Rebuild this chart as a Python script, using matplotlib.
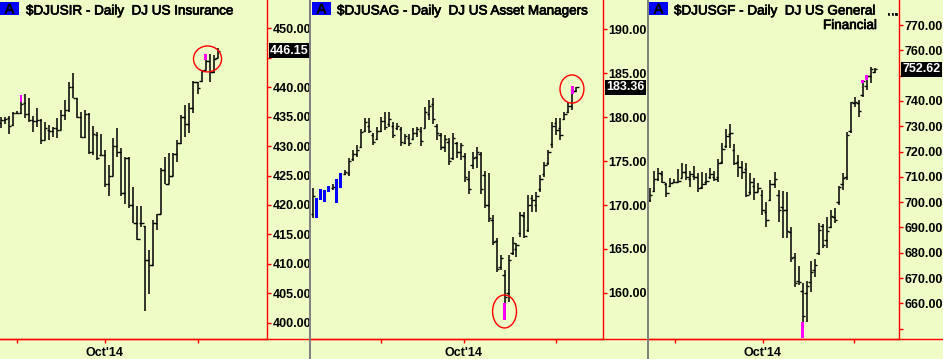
import numpy as np
import matplotlib
matplotlib.use('Agg')
import matplotlib.pyplot as plt
import matplotlib.transforms as mtransforms
import matplotlib.patheffects as pe
from matplotlib.patches import Ellipse, Rectangle
from matplotlib.lines import Line2D

plt.rcParams['font.family'] = ['Liberation Sans', 'DejaVu Sans']

# ---- $DJUSIR  DJ US Insurance ----
p1_open = [434.0, 434.4, 434.7, 433.6, 435.7, 435.7, 437.3, 435.5, 434.4, 434.2,
           434.4, 431.0, 432.7, 432.6, 433.0, 432.8, 435.3, 436.2, 440.0, 438.1,
           435.0, 431.5, 435.5, 429.0, 431.8, 428.5, 428.5, 423.5, 425.0, 430.0,
           429.0, 422.0, 428.0, 420.0, 417.0, 417.0, 416.5, 410.6, 409.8, 417.0,
           418.5, 426.0, 423.6, 425.0, 428.6, 430.6, 435.0, 433.8, 436.4, 440.8,
           441.0, 442.9, 444.5, 442.5, 444.9]
p1_high = [435.0, 435.0, 435.1, 435.8, 435.9, 438.7, 438.8, 438.1, 435.1, 436.4,
           434.6, 434.1, 433.6, 433.2, 434.7, 436.1, 437.8, 440.9, 442.4, 438.1,
           435.8, 436.1, 435.7, 433.4, 432.4, 432.1, 429.3, 426.7, 431.3, 433.0,
           429.6, 428.2, 428.2, 423.1, 419.8, 419.8, 416.5, 412.3, 417.4, 418.5,
           426.2, 428.1, 428.8, 428.8, 431.0, 435.3, 437.0, 437.3, 441.1, 440.9,
           442.9, 445.7, 445.7, 445.5, 446.6]
p1_low = [433.0, 433.8, 432.1, 433.4, 435.4, 435.5, 434.7, 434.1, 432.4, 433.3,
          430.4, 431.0, 431.0, 431.6, 431.3, 432.7, 434.4, 435.8, 438.1, 434.7,
          431.3, 431.3, 428.7, 428.4, 427.6, 428.4, 423.1, 421.6, 425.0, 428.2,
          421.6, 420.2, 419.4, 416.9, 414.0, 416.2, 402.0, 404.9, 409.7, 415.7,
          418.5, 423.5, 423.5, 424.9, 427.3, 430.4, 431.6, 432.3, 435.7, 438.8,
          440.9, 442.9, 440.9, 442.4, 444.9]
p1_close = [434.4, 434.6, 433.4, 435.6, 435.6, 437.1, 435.5, 434.4, 434.2, 434.4,
            431.0, 433.0, 432.6, 433.0, 432.8, 435.3, 436.2, 440.0, 438.2, 435.0,
            431.5, 435.5, 429.0, 432.0, 428.0, 428.5, 423.5, 425.0, 430.0, 429.0,
            422.0, 428.0, 420.0, 417.0, 414.2, 417.0, 410.6, 409.8, 417.0, 418.5,
            426.0, 423.6, 425.0, 428.6, 430.6, 435.0, 433.8, 436.4, 440.8, 439.9,
            442.8, 444.5, 442.5, 444.8, 446.15]
p1_magenta = [(5, 438.7, 437.5), (51, 445.7, 444.6)]
p1_blue = []
p1_circles = [(51.5, 444.8, 7.0, 4.4)]

# ---- $DJUSAG  DJ US Asset Managers ----
p2_open = [169.0, 169.0, 170.8, 171.2, 171.6, 171.9, 170.5, 172.4, 173.5, 173.6,
           175.2, 175.8, 176.6, 178.4, 179.0, 178.0, 177.5, 178.4, 179.5, 179.2,
           179.0, 178.7, 178.6, 177.0, 177.6, 177.5, 178.2, 178.4, 178.8, 180.3,
           181.5, 179.0, 177.9, 176.6, 177.2, 175.3, 177.0, 176.0, 175.6, 173.0,
           174.5, 175.5, 175.8, 173.4, 170.0, 168.3, 165.9, 163.0, 162.0, 160.0,
           164.6, 165.0, 166.8, 168.8, 167.2, 170.8, 170.0, 171.8, 173.5, 174.8,
           176.9, 179.3, 178.8, 179.8, 180.6, 181.2, 183.0]
p2_high = [171.89, 170.76, 171.82, 171.67, 172.16, 172.39, 172.92, 173.67, 173.98, 175.30,
           176.25, 176.82, 178.64, 179.92, 179.85, 178.14, 178.90, 180.04, 180.53, 180.53,
           179.39, 179.28, 178.90, 178.03, 178.03, 178.71, 178.90, 178.90, 181.17, 181.93,
           182.12, 179.17, 178.14, 177.95, 177.58, 178.14, 177.20, 177.01, 175.87, 173.86,
           176.06, 176.63, 176.06, 173.86, 173.60, 168.86, 166.21, 164.32, 162.61, 164.32,
           166.40, 165.64, 169.24, 169.24, 171.14, 171.14, 171.52, 173.41, 174.92, 176.25,
           179.47, 179.85, 179.85, 180.61, 181.74, 183.50, 183.45]
p2_low = [168.48, 168.56, 170.57, 170.38, 171.44, 171.70, 170.27, 171.97, 173.41, 173.33,
          175.00, 175.49, 176.52, 178.33, 178.14, 176.82, 177.39, 178.33, 178.52, 178.90,
          177.65, 178.52, 176.74, 176.89, 176.74, 177.39, 177.77, 176.74, 178.71, 179.66,
          179.17, 177.39, 176.25, 176.06, 174.55, 175.11, 175.38, 175.11, 172.65, 171.21,
          174.09, 174.17, 171.21, 169.70, 168.03, 165.45, 162.42, 162.61, 156.93, 159.02,
          164.32, 164.13, 166.40, 166.21, 166.97, 169.24, 169.24, 171.52, 173.22, 174.55,
          176.44, 177.95, 177.39, 179.66, 180.42, 180.80, 182.80]
p2_close = [171.0, 170.5, 171.5, 170.6, 172.0, 172.0, 172.6, 173.4, 173.8, 175.0,
            175.8, 176.3, 178.3, 179.4, 178.4, 177.2, 178.4, 179.6, 178.9, 179.8,
            178.0, 179.0, 177.2, 177.8, 177.0, 178.2, 178.6, 177.3, 180.6, 181.3,
            179.8, 178.2, 176.6, 177.5, 175.0, 177.6, 176.0, 176.8, 173.2, 171.8,
            175.3, 176.0, 171.8, 170.0, 168.5, 165.8, 162.7, 164.0, 159.5, 163.8,
            165.7, 165.5, 168.9, 166.5, 170.0, 170.6, 171.0, 173.0, 174.6, 176.0,
            179.0, 178.5, 178.0, 180.3, 181.3, 183.0, 183.36]
p2_magenta = [(48, 158.83, 156.93), (65, 183.5, 182.6)]
p2_blue = [1, 2, 3, 4, 6, 7]
p2_circles = [(48.0, 157.9, 6.0, 3.75), (64.9, 183.18, 6.0, 3.2)]

# ---- $DJUSGF  DJ US General Financial ----
p3_open = [701.0, 704.5, 709.0, 711.0, 707.0, 706.5, 708.0, 708.0, 709.5, 712.0,
           709.0, 710.5, 710.0, 706.0, 708.0, 710.0, 710.0, 710.0, 716.0, 722.0,
           727.0, 720.5, 716.0, 714.0, 713.0, 704.0, 706.5, 704.0, 703.0, 696.0,
           701.0, 707.0, 703.0, 698.0, 697.0, 688.0, 678.5, 669.0, 665.0, 664.0,
           668.5, 673.0, 680.0, 690.5, 685.0, 690.0, 694.0, 700.0, 707.0, 710.0,
           728.0, 739.0, 739.0, 742.5, 746.0, 750.0, 751.5]
p3_high = [705.44, 712.29, 713.61, 712.29, 707.68, 709.66, 709.13, 712.95, 715.32, 714.93,
           712.42, 714.27, 711.37, 711.77, 711.37, 713.61, 712.29, 717.04, 723.23, 728.89,
           730.74, 722.83, 718.62, 716.25, 715.32, 711.63, 709.39, 707.68, 704.78, 700.17,
           708.74, 712.03, 704.78, 704.39, 703.86, 690.29, 679.75, 674.87, 667.89, 668.81,
           676.71, 677.50, 691.61, 691.21, 694.24, 696.88, 697.54, 706.50, 711.63, 727.58,
           739.70, 741.67, 740.36, 748.26, 750.24, 753.27, 752.87]
p3_low = [700.17, 704.13, 708.34, 707.42, 702.15, 706.10, 707.42, 707.68, 709.39, 708.74,
          705.84, 708.74, 704.13, 705.18, 706.76, 709.00, 708.34, 708.08, 714.93, 721.25,
          721.52, 714.66, 710.05, 709.00, 702.15, 702.81, 700.83, 703.86, 694.90, 690.29,
          700.44, 705.44, 692.00, 685.68, 685.68, 676.45, 666.58, 667.23, 646.42, 652.74,
          664.34, 670.53, 679.09, 681.73, 681.73, 689.63, 691.61, 698.85, 704.78, 708.74,
          727.18, 737.72, 733.77, 741.67, 744.31, 746.94, 750.90]
p3_close = [703.0, 709.0, 711.5, 708.0, 703.5, 707.5, 708.0, 708.5, 712.0, 710.0,
            711.0, 710.0, 705.5, 707.0, 708.5, 711.0, 709.0, 715.5, 721.0, 726.0,
            727.5, 715.5, 714.0, 712.0, 703.0, 708.0, 704.0, 705.5, 697.0, 693.0,
            707.0, 709.0, 697.0, 697.0, 688.5, 678.0, 668.0, 668.5, 655.0, 667.0,
            672.5, 675.0, 689.0, 683.0, 688.5, 694.5, 693.0, 706.0, 709.5, 726.5,
            739.5, 739.5, 736.0, 748.0, 750.0, 752.5, 752.62]
p3_magenta = [(38, 652.7, 646.4), (53, 748.3, 747.1), (54, 750.2, 748.3)]
p3_blue = []
p3_circles = []

month_labels = ['', "Oct'14", '']

BG = '#EEFCC6'
RED = '#FF0000'
W, H = 943, 359
heavy = [pe.withStroke(linewidth=0.5, foreground='black')]

fig = plt.figure(figsize=(W / 100, H / 100), dpi=100, facecolor=BG)

panels = [
    dict(o=p1_open, h=p1_high, l=p1_low, c=p1_close, mag=p1_magenta, blue=p1_blue,
         circ=p1_circles, px=(0, 267), xlim=(-0.25, 66.33), ylim=(397.23, 454.81),
         yt=np.arange(400, 451, 5), hide=[445], mt=[3.99, 25.9, 49.1],
         title='$DJUSIR - Daily  DJ US Insurance', tx=26, box=(0, 19)),
    dict(o=p2_open, h=p2_high, l=p2_low, c=p2_close, mag=p2_magenta, blue=p2_blue,
         circ=p2_circles, px=(311, 603), xlim=(-0.50, 72.68), ylim=(154.77, 193.30),
         yt=np.arange(160, 191, 5), hide=[], mt=[17.0, 37.8, 60.9],
         title='$DJUSAG - Daily  DJ US Asset Managers', tx=337, box=(312, 331)),
    dict(o=p3_open, h=p3_high, l=p3_low, c=p3_close, mag=p3_magenta, blue=p3_blue,
         circ=p3_circles, px=(649, 899), xlim=(-0.32, 62.07), ylim=(645.9, 779.9),
         yt=np.arange(650, 771, 10), hide=[650, 750], mt=[6.16, 28.1, 50.9],
         title='$DJUSGF - Daily  DJ US General', tx=674, box=(649, 668)),
]

for p in panels:
    left, right = p['px']
    ax = fig.add_axes([left / W, 20 / H, (right - left) / W, 339 / H])
    ax.set_facecolor(BG)
    ax.set_xlim(*p['xlim'])
    ax.set_ylim(*p['ylim'])
    for s in ['top', 'left']:
        ax.spines[s].set_visible(False)
    for s in ['right', 'bottom']:
        ax.spines[s].set_color(RED)
        ax.spines[s].set_linewidth(1.0)

    o = np.array(p['o']); hi = np.array(p['h']); lo = np.array(p['l']); c = np.array(p['c'])
    x = np.arange(len(hi))
    normal = np.array([i not in p['blue'] for i in x])
    tk = 0.55
    ax.vlines(x[normal], lo[normal], hi[normal], color='black', lw=1.1)
    ax.hlines(o[normal], x[normal] - tk, x[normal], color='black', lw=1.0)
    ax.hlines(c[normal], x[normal], x[normal] + tk, color='black', lw=1.0)
    if p['blue']:
        b = np.array(p['blue'])
        ax.bar(b, hi[b] - lo[b], bottom=lo[b], width=0.75, color='#0000FF', lw=0)
    for i, top, bot in p['mag']:
        ax.bar(i, top - bot, bottom=bot, width=0.7, color='#FF00FF', lw=0, zorder=3)
    for cx, cy, ew, eh in p['circ']:
        ax.add_patch(Ellipse((cx, cy), ew, eh, fill=False, ec=RED, lw=1.0, zorder=4))

    ax.yaxis.tick_right()
    ax.set_yticks(p['yt'])
    ax.set_yticklabels(['' if v in p['hide'] else f'{v:.2f}' for v in p['yt']])
    ax.tick_params(axis='y', direction='out', length=3, width=1, color=RED,
                   labelcolor='black', labelsize=9, pad=1)
    ax.set_xticks(p['mt'])
    ax.set_xticklabels(month_labels)
    ax.tick_params(axis='x', direction='out', length=3, width=1, color=RED,
                   labelcolor='black', labelsize=9, pad=3)
    for t in ax.get_yticklabels() + ax.get_xticklabels():
        t.set_fontweight('bold')

    # last price box
    trans = mtransforms.blended_transform_factory(ax.transAxes, ax.transData)
    ax.text(1 + 3 / (right - left), c[-1], f'{c[-1]:.2f}', transform=trans,
            ha='left', va='center', color='white', fontsize=9, fontweight='bold',
            bbox=dict(boxstyle='square,pad=0.12', fc='black', ec='none'),
            clip_on=False, zorder=6)

    # title
    b0, b1 = p['box']
    fig.patches.append(Rectangle((b0 / W, 1 - 15 / H), (b1 - b0) / W, 13 / H,
                                 transform=fig.transFigure, fc='#0000FF', ec='none'))
    fig.text((b0 + b1) / 2 / W, 1 - 13.5 / H, 'A', ha='center', va='baseline',
             fontsize=10, color='black', path_effects=heavy)
    fig.text(p['tx'] / W, 1 - 14.5 / H, p['title'], ha='left', va='baseline',
             fontsize=9.7, color='black', path_effects=heavy)

fig.text(898 / W, 1 - 14.5 / H, '...', ha='right', va='baseline', fontsize=9.7,
         path_effects=heavy)
fig.text(877 / W, 1 - 29 / H, 'Financial', ha='right', va='baseline', fontsize=9.7,
         path_effects=heavy)

# bottom rule and panel separators
fig.lines.append(Line2D([0, 1], [20 / H, 20 / H], transform=fig.transFigure,
                        color=RED, lw=1.0))
for sx in [310, 648]:
    fig.lines.append(Line2D([sx / W, sx / W], [0, 1], transform=fig.transFigure,
                            color='#808080', lw=1.4))

fig.savefig('out.png', dpi=100, facecolor=BG)
